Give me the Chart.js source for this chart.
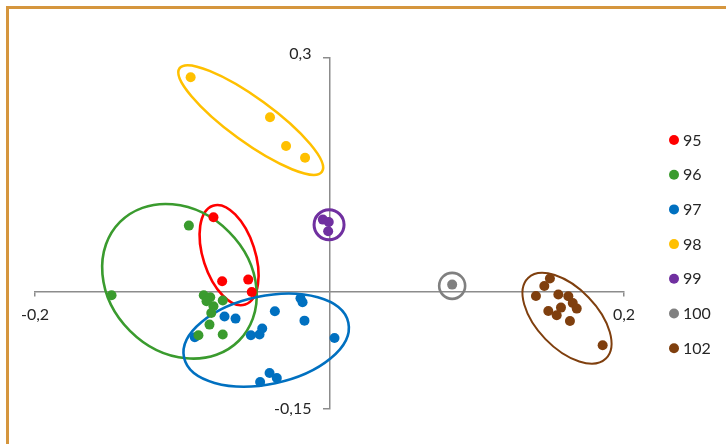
<!DOCTYPE html>
<html>
<head>
<meta charset="utf-8">
<script src="https://cdn.jsdelivr.net/npm/chart.js@4.4.1/dist/chart.umd.min.js"></script>
<style>
  html, body { margin: 0; padding: 0; background: #fff; }
  #wrap { position: relative; width: 726px; height: 444px; overflow: hidden; }
  #frame { position: absolute; left: 6px; top: 6px; width: 800px; height: 600px;
           border-top: 3px solid #D5963E; border-left: 3px solid #D5963E; }
  canvas { position: absolute; left: 0; top: 0; }
</style>
</head>
<body>
<div id="wrap">
  <div id="frame"></div>
  <canvas id="chart" width="726" height="444"></canvas>
</div>
<script>
// Groups shown in the legend, in order
const groupNames = ['95', '96', '97', '98', '99', '100', '102'];

// Scores of each sample on the two components
const g95 = [
  { x: -0.0788, y: 0.0958 }, { x: -0.0729, y: 0.0137 }, { x: -0.0552, y: 0.0159 },
  { x: -0.0528, y: 0.0000 }
];
const g96 = [
  { x: -0.1480, y: -0.0042 }, { x: -0.0955, y: 0.0851 }, { x: -0.0854, y: -0.0042 },
  { x: -0.0810, y: -0.0068 }, { x: -0.0725, y: -0.0110 }, { x: -0.0788, y: -0.0183 },
  { x: -0.0803, y: -0.0269 }, { x: -0.0815, y: -0.0418 }, { x: -0.0890, y: -0.0555 },
  { x: -0.0725, y: -0.0546 }, { x: -0.0835, y: -0.0119 }
];
const g97 = [
  { x: -0.0915, y: -0.0581 }, { x: -0.0713, y: -0.0315 }, { x: -0.0638, y: -0.0341 },
  { x: -0.0371, y: -0.0247 }, { x: -0.0197, y: -0.0081 }, { x: -0.0183, y: -0.0132 },
  { x: -0.0170, y: -0.0367 }, { x: 0.0034, y: -0.0590 }, { x: -0.0534, y: -0.0555 },
  { x: -0.0475, y: -0.0546 }, { x: -0.0457, y: -0.0469 }, { x: -0.0471, y: -0.1154 },
  { x: -0.0407, y: -0.1038 }, { x: -0.0358, y: -0.1103 }
];
const g98 = [
  { x: -0.0943, y: 0.2753 }, { x: -0.0404, y: 0.2240 }, { x: -0.0295, y: 0.1872 },
  { x: -0.0166, y: 0.1722 }
];
const g99 = [
  { x: -0.0045, y: 0.0928 }, { x: -0.0005, y: 0.0897 }, { x: -0.0009, y: 0.0778 }
];
const g100 = [
  { x: 0.0833, y: 0.0095 }
];
const g102 = [
  { x: 0.1497, y: 0.0172 }, { x: 0.1459, y: 0.0077 }, { x: 0.1402, y: -0.0051 },
  { x: 0.1554, y: -0.0033 }, { x: 0.1622, y: -0.0055 }, { x: 0.1652, y: -0.0141 },
  { x: 0.1679, y: -0.0213 }, { x: 0.1572, y: -0.0200 }, { x: 0.1486, y: -0.0244 },
  { x: 0.1543, y: -0.0299 }, { x: 0.1633, y: -0.0372 }, { x: 0.1855, y: -0.0683 }
];

// Centre of the grouping ellipse drawn around each group (axis units)
const ellipseCenterX = [-0.0682, -0.1019, -0.0430, -0.0535, -0.0003, 0.0833, 0.1613];
const ellipseCenterY = [0.0473, 0.0137, -0.0617, 0.2205, 0.0862, 0.0079, -0.0337];

// Axis ranges and the labelled ticks
const xRange = [-0.2, 0.2];
const yRange = [-0.15, 0.3];
const xTickValues = [-0.2, 0.2];
const xTickLabels = ['-0,2', '0,2'];
const yTickValues = [-0.15, 0.3];
const yTickLabels = ['-0,15', '0,3'];

// Styling
const groupColors = ['#FF0000', '#3A9B2E', '#0070C0', '#FFC000', '#7030A0', '#808080', '#7F3F0E'];
// Ellipse outline shapes: semi-axes in px, rotation in degrees, stroke width
const ellipseShape = [
  { a: 52, b: 26, rot: 72, w: 2.6 },
  { a: 84, b: 70, rot: 45, w: 2.6 },
  { a: 84, b: 44, rot: -12, w: 2.6 },
  { a: 88, b: 22, rot: 36, w: 2.6 },
  { a: 15, b: 15, rot: 0, w: 3 },
  { a: 13, b: 13, rot: 0, w: 2.6 },
  { a: 56, b: 30, rot: 46, w: 2 }
];
const axisColor = '#8C8C8C';
const textColor = '#262626';
const fontFamily = 'Lato, "Liberation Sans", sans-serif';
const fontSize = 16;
const dotRadius = 5;

const groupData = [g95, g96, g97, g98, g99, g100, g102];

const datasets = groupNames.map((name, i) => ({
  label: name,
  data: groupData[i],
  backgroundColor: groupColors[i],
  borderColor: groupColors[i],
  borderWidth: 0,
  pointRadius: dotRadius,
  pointHoverRadius: dotRadius
}));

// Outlines around each group, drawn under the points
const ellipsePlugin = {
  id: 'groupEllipses',
  beforeDatasetsDraw(chart) {
    const { ctx, scales: { x, y } } = chart;
    ctx.save();
    groupNames.forEach((_, i) => {
      const s = ellipseShape[i];
      const px = x.getPixelForValue(ellipseCenterX[i]);
      const py = y.getPixelForValue(ellipseCenterY[i]);
      ctx.save();
      ctx.translate(px, py);
      ctx.rotate(s.rot * Math.PI / 180);
      ctx.beginPath();
      ctx.ellipse(0, 0, s.a, s.b, 0, 0, Math.PI * 2);
      ctx.lineWidth = s.w;
      ctx.strokeStyle = groupColors[i];
      ctx.stroke();
      ctx.restore();
    });
    ctx.restore();
  }
};

// Value labels of the vertical axis, set to the left of its tick marks
const yLabelPlugin = {
  id: 'yAxisLabels',
  afterDraw(chart) {
    const { ctx, scales: { x, y } } = chart;
    const right = x.getPixelForValue(0) - y.options.grid.tickLength - 12;
    ctx.save();
    ctx.font = fontSize + 'px ' + fontFamily;
    ctx.fillStyle = textColor;
    ctx.textAlign = 'right';
    ctx.textBaseline = 'middle';
    y.ticks.forEach((t, i) => {
      const lift = t.value === yRange[1] ? 4 : 0;
      ctx.fillText(yTickLabels[i], right, y.getPixelForValue(t.value) - lift);
    });
    ctx.restore();
  }
};

// Vertical legend on the right
const legendPlugin = {
  id: 'sideLegend',
  afterDraw(chart) {
    const { ctx } = chart;
    const left = 674, top = 140, step = 34.7;
    ctx.save();
    ctx.font = fontSize + 'px ' + fontFamily;
    ctx.textBaseline = 'middle';
    ctx.textAlign = 'left';
    chart.data.datasets.forEach((ds, i) => {
      const cy = top + i * step;
      ctx.beginPath();
      ctx.arc(left, cy, dotRadius, 0, Math.PI * 2);
      ctx.fillStyle = ds.backgroundColor;
      ctx.fill();
      ctx.fillStyle = textColor;
      ctx.fillText(ds.label, left + 9, cy + 0.5);
    });
    ctx.restore();
  }
};

new Chart(document.getElementById('chart'), {
  type: 'scatter',
  data: { datasets },
  options: {
    responsive: false,
    animation: false,
    events: [],
    layout: { padding: { left: 35, right: 102, top: 58, bottom: 35 } },
    plugins: { legend: { display: false }, tooltip: { enabled: false } },
    scales: {
      x: {
        type: 'linear',
        min: xRange[0], max: xRange[1],
        position: { y: 0 },
        afterBuildTicks: s => { s.ticks = xTickValues.map(v => ({ value: v })); },
        grid: { drawOnChartArea: false, drawTicks: true, tickLength: 4, color: axisColor, lineWidth: 1.5 },
        border: { display: true, color: axisColor, width: 1.5 },
        ticks: {
          autoSkip: false, maxRotation: 0, padding: 9,
          callback: (v, i) => xTickLabels[i],
          color: textColor, font: { family: fontFamily, size: fontSize }
        }
      },
      y: {
        type: 'linear',
        min: yRange[0], max: yRange[1],
        position: { x: 0 },
        afterBuildTicks: s => { s.ticks = yTickValues.map(v => ({ value: v })); },
        grid: { drawOnChartArea: false, drawTicks: true, tickLength: 6, color: axisColor, lineWidth: 1.5 },
        border: { display: true, color: axisColor, width: 1.5 },
        ticks: { display: false }
      }
    }
  },
  plugins: [ellipsePlugin, yLabelPlugin, legendPlugin]
});
</script>
</body>
</html>
